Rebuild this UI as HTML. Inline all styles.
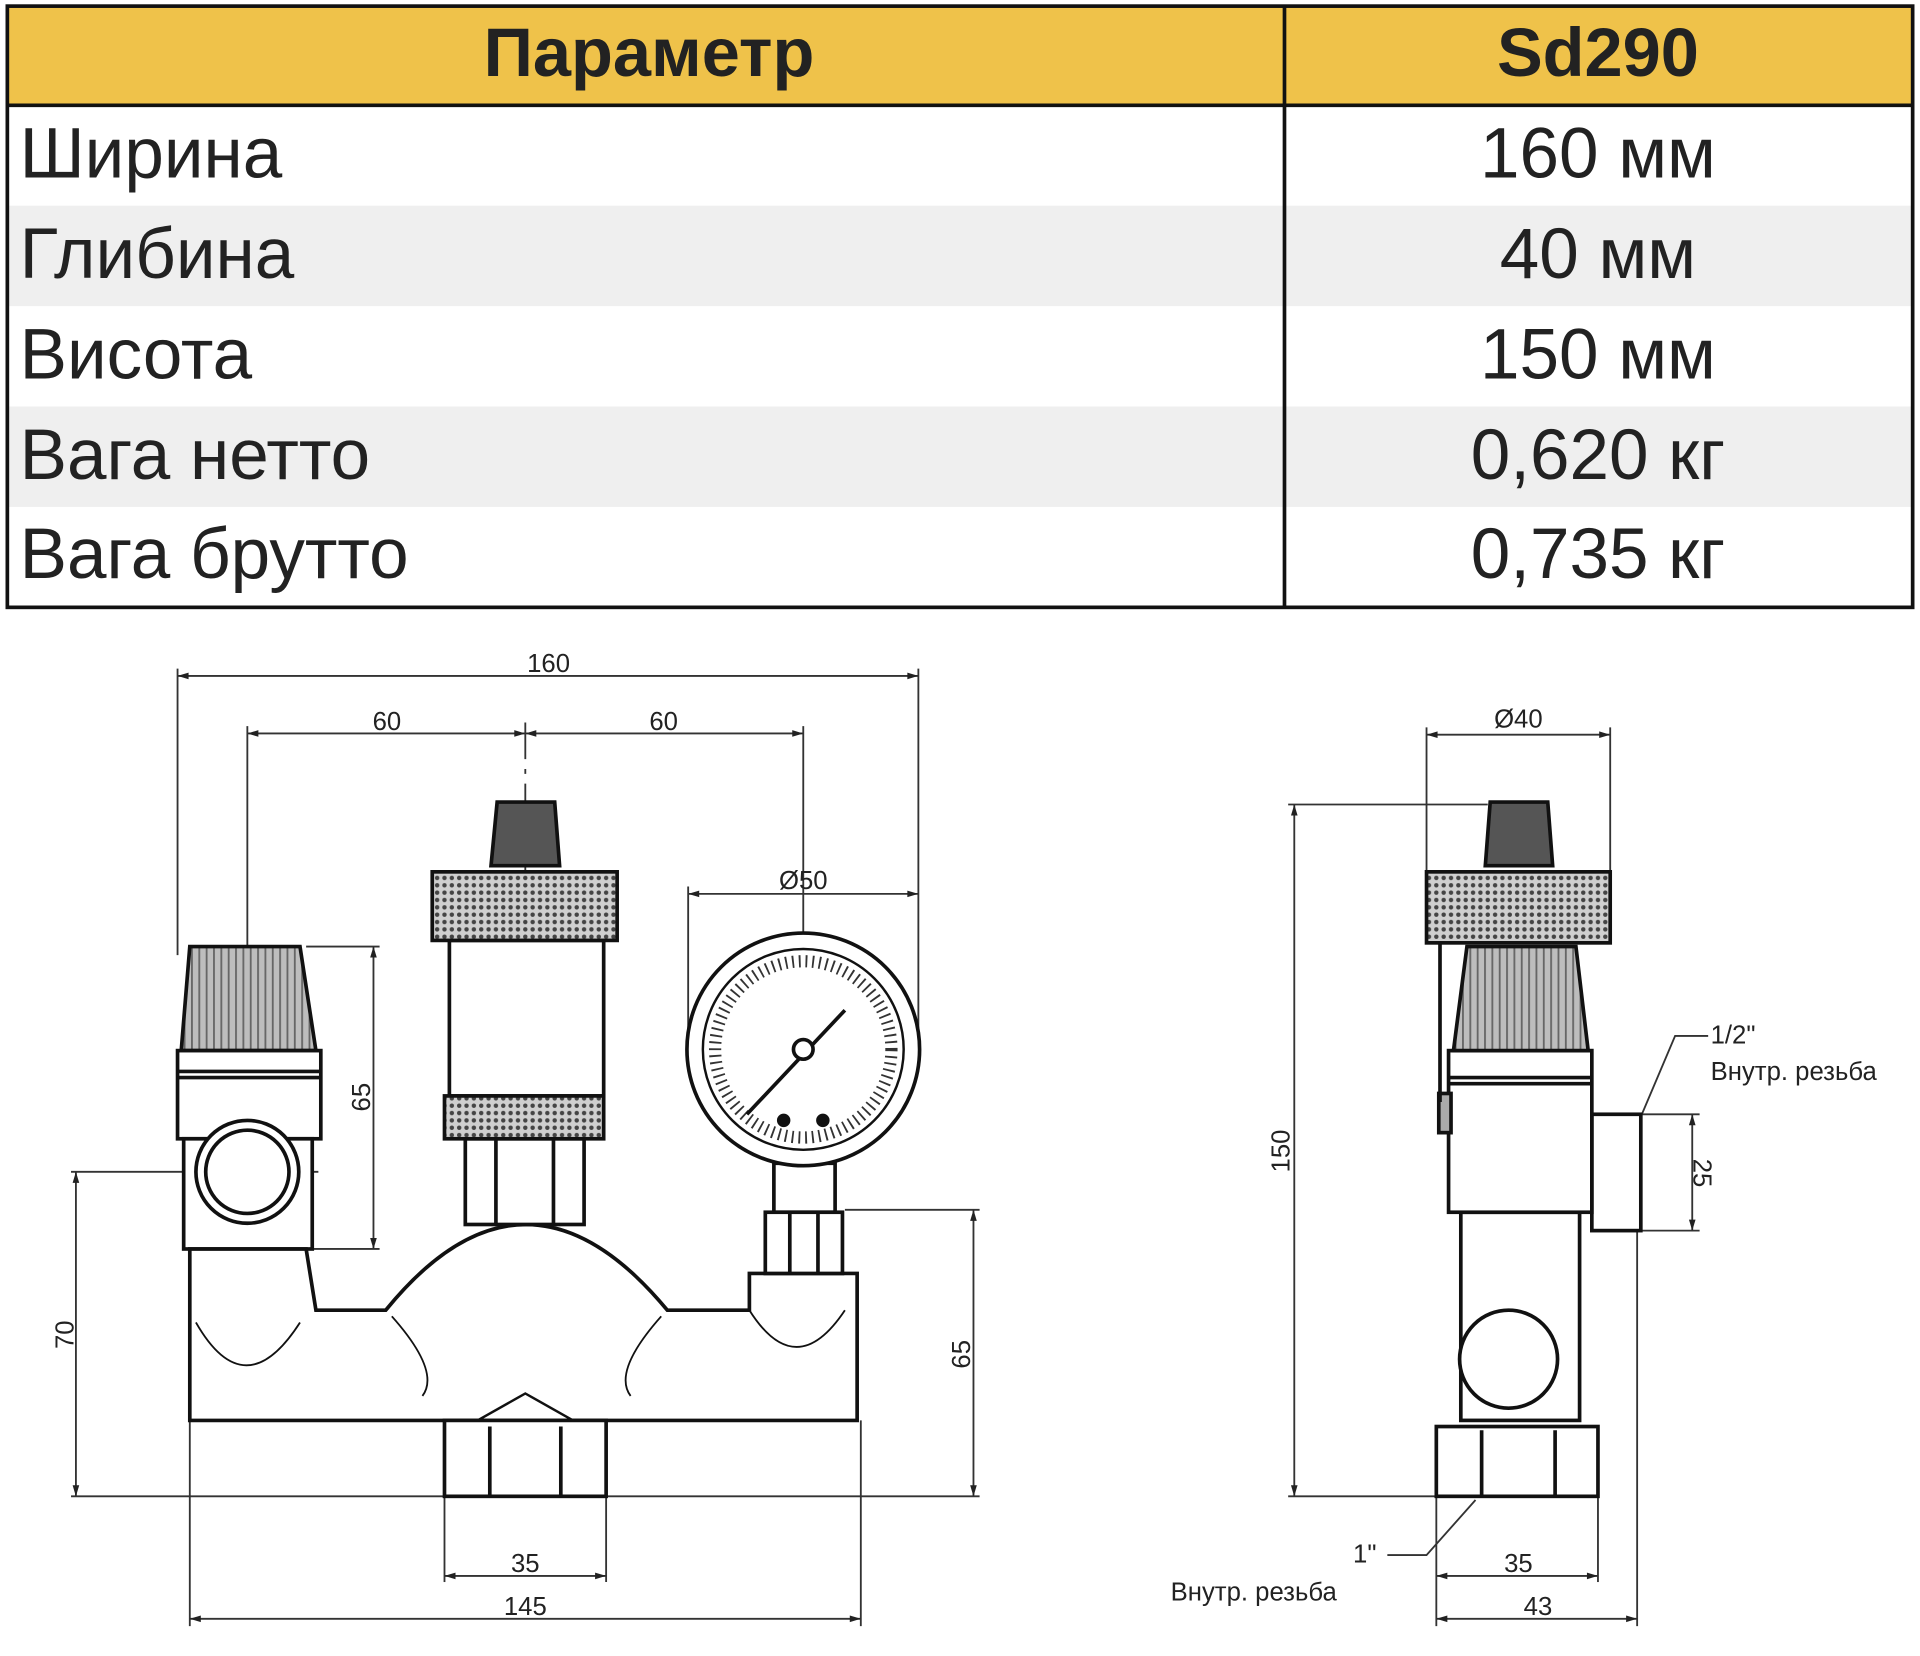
<!DOCTYPE html>
<html><head><meta charset="utf-8"><style>
html,body{margin:0;padding:0;background:#fff}
svg{display:block}
text{font-family:"Liberation Sans",Arial,sans-serif}
</style></head><body>
<svg width="1920" height="1656" viewBox="0 0 1568 1352.4" preserveAspectRatio="none" xmlns="http://www.w3.org/2000/svg">
<defs>
<pattern id="kn" width="6" height="6" patternUnits="userSpaceOnUse"><rect width="6" height="6" fill="#cfcfcf"/><circle cx="3" cy="3" r="1.8" fill="#444"/></pattern>
<pattern id="rib" width="6" height="6" patternUnits="userSpaceOnUse"><rect width="6" height="6" fill="#bdbdbd"/><rect x="0" width="1.5" height="6" fill="#666"/></pattern>
<marker id="a" viewBox="0 0 10 10" refX="10" refY="5" markerWidth="10" markerHeight="6" orient="auto-start-reverse"><path d="M0,2 L10,5 L0,8z" fill="#222"/></marker>
</defs>
<!-- table -->
<rect x="6" y="5" width="1556" height="81" fill="#efc24a"/>
<rect x="6" y="168" width="1556" height="82" fill="#efefef"/>
<rect x="6" y="332" width="1556" height="82" fill="#efefef"/>
<rect x="6" y="5" width="1556" height="491" fill="none" stroke="#111" stroke-width="3"/>
<line x1="6" y1="86" x2="1562" y2="86" stroke="#111" stroke-width="3"/>
<line x1="1049" y1="5" x2="1049" y2="496" stroke="#111" stroke-width="3"/>
<g font-size="56" fill="#222">
<text x="530" y="62" text-anchor="middle" font-weight="bold">Параметр</text>
<text x="1305" y="62" text-anchor="middle" font-weight="bold">Sd290</text>
</g>
<g font-size="58" fill="#222">
<text x="16" y="145">Ширина</text><text x="1305" y="145" text-anchor="middle">160 мм</text>
<text x="16" y="227">Глибина</text><text x="1305" y="227" text-anchor="middle">40 мм</text>
<text x="16" y="309">Висота</text><text x="1305" y="309" text-anchor="middle">150 мм</text>
<text x="16" y="391">Вага нетто</text><text x="1305" y="391" text-anchor="middle">0,620 кг</text>
<text x="16" y="472">Вага брутто</text><text x="1305" y="472" text-anchor="middle">0,735 кг</text>
</g>
<!-- left drawing dims -->
<g stroke="#333" stroke-width="1.5" fill="none">
<line x1="145" y1="552" x2="750" y2="552" marker-start="url(#a)" marker-end="url(#a)"/>
<line x1="145" y1="546" x2="145" y2="780"/>
<line x1="750" y1="546" x2="750" y2="860"/>
<line x1="202" y1="599" x2="429" y2="599" marker-start="url(#a)" marker-end="url(#a)"/>
<line x1="429" y1="599" x2="656" y2="599" marker-start="url(#a)" marker-end="url(#a)"/>
<line x1="202" y1="593" x2="202" y2="1020"/>
<line x1="656" y1="593" x2="656" y2="770"/>
<line x1="429" y1="590" x2="429" y2="1160" stroke-dasharray="30,8,4,8"/>
<line x1="562" y1="730" x2="750" y2="730" marker-start="url(#a)" marker-end="url(#a)"/>
<line x1="562" y1="724" x2="562" y2="850"/>
<line x1="250" y1="773" x2="310" y2="773"/>
<line x1="250" y1="1020" x2="310" y2="1020"/>
<line x1="305" y1="773" x2="305" y2="1020" marker-start="url(#a)" marker-end="url(#a)"/>
<line x1="58" y1="957" x2="260" y2="957"/>
<line x1="62" y1="957" x2="62" y2="1222" marker-start="url(#a)" marker-end="url(#a)"/>
<line x1="58" y1="1222" x2="800" y2="1222"/>
<line x1="690" y1="988" x2="800" y2="988"/>
<line x1="795" y1="988" x2="795" y2="1222" marker-start="url(#a)" marker-end="url(#a)"/>
<line x1="363" y1="1222" x2="363" y2="1292"/><line x1="495" y1="1222" x2="495" y2="1292"/>
<line x1="363" y1="1287" x2="495" y2="1287" marker-start="url(#a)" marker-end="url(#a)"/>
<line x1="155" y1="1160" x2="155" y2="1328"/><line x1="703" y1="1160" x2="703" y2="1328"/>
<line x1="155" y1="1322" x2="703" y2="1322" marker-start="url(#a)" marker-end="url(#a)"/>
</g>
<g font-size="21" fill="#222" text-anchor="middle">
<text x="448" y="549">160</text><text x="316" y="596">60</text><text x="542" y="596">60</text>
<text x="656" y="726">Ø50</text><text x="429" y="1284">35</text><text x="429" y="1319">145</text>
<text transform="translate(302,896) rotate(-90)">65</text>
<text transform="translate(60,1090) rotate(-90)">70</text>
<text transform="translate(792,1106) rotate(-90)">65</text>
</g>
<!-- left parts -->
<g stroke="#111" stroke-width="3">
<path d="M155,773 H245 L258,858 H148Z" fill="url(#rib)"/>
<rect x="145" y="858" width="117" height="72" fill="#fff"/>
<line x1="145" y1="875" x2="262" y2="875"/><line x1="145" y1="880" x2="262" y2="880"/>
<rect x="150" y="930" width="105" height="90" fill="#fff"/>
<circle cx="202" cy="957" r="42" fill="#fff"/><circle cx="202" cy="957" r="34" fill="#fff"/>
<path d="M155,1020 H250 L258,1070 H315 Q429,930 545,1070 H612 V1040 H700 V1160 H155Z" fill="#fff"/>
<path d="M160,1080 Q200,1150 245,1080" fill="none" stroke-width="1.5"/>
<path d="M612,1070 Q650,1130 690,1070" fill="none" stroke-width="1.5"/>
<path d="M320,1075 Q360,1120 345,1140 M540,1075 Q500,1120 515,1140" fill="none" stroke-width="1.5"/>
<path d="M390,1160 L429,1138 L468,1160" fill="none" stroke-width="2"/>
<rect x="363" y="1160" width="132" height="62" fill="#fff"/>
<line x1="400" y1="1165" x2="400" y2="1222"/><line x1="458" y1="1165" x2="458" y2="1222"/>
<rect x="380" y="930" width="97" height="70" fill="#fff"/>
<line x1="405" y1="930" x2="405" y2="1000"/><line x1="452" y1="930" x2="452" y2="1000"/>
<rect x="367" y="768" width="126" height="127" fill="#fff"/>
<rect x="353" y="712" width="151" height="56" fill="url(#kn)"/>
<rect x="363" y="895" width="130" height="35" fill="url(#kn)"/>
<path d="M406,655 H453 L457,707 H401Z" fill="#555"/>
<rect x="632" y="950" width="50" height="40" fill="#fff"/>
<rect x="625" y="990" width="63" height="50" fill="#fff"/>
<line x1="645" y1="990" x2="645" y2="1040"/><line x1="668" y1="990" x2="668" y2="1040"/>
<circle cx="656" cy="857" r="95" fill="#fff"/>
<circle cx="656" cy="857" r="82" fill="#fff" stroke-width="2"/>
<circle cx="656" cy="857" r="72" fill="none" stroke-width="10" stroke-dasharray="1.5,4" stroke="#333"/>
<line x1="610" y1="910" x2="690" y2="825" stroke-width="3"/>
<circle cx="656" cy="857" r="8" fill="#fff"/>
<circle cx="640" cy="915" r="4" fill="#111"/><circle cx="672" cy="915" r="4" fill="#111"/>
</g>
<!-- right drawing -->
<g stroke="#333" stroke-width="1.5" fill="none">
<line x1="1165" y1="600" x2="1315" y2="600" marker-start="url(#a)" marker-end="url(#a)"/>
<line x1="1165" y1="594" x2="1165" y2="712"/><line x1="1315" y1="594" x2="1315" y2="712"/>
<line x1="1052" y1="657" x2="1215" y2="657"/>
<line x1="1057" y1="657" x2="1057" y2="1222" marker-start="url(#a)" marker-end="url(#a)"/>
<line x1="1052" y1="1222" x2="1175" y2="1222"/>
<line x1="1340" y1="910" x2="1388" y2="910"/><line x1="1340" y1="1005" x2="1388" y2="1005"/>
<line x1="1382" y1="910" x2="1382" y2="1005" marker-start="url(#a)" marker-end="url(#a)"/>
<line x1="1173" y1="1222" x2="1173" y2="1328"/><line x1="1305" y1="1222" x2="1305" y2="1292"/><line x1="1337" y1="1005" x2="1337" y2="1328"/>
<line x1="1173" y1="1287" x2="1305" y2="1287" marker-start="url(#a)" marker-end="url(#a)"/>
<line x1="1173" y1="1322" x2="1337" y2="1322" marker-start="url(#a)" marker-end="url(#a)"/>
<path d="M1395,846 H1368 L1340,912"/>
<path d="M1133,1270 H1165 L1205,1225"/>
</g>
<g font-size="21" fill="#222">
<text x="1240" y="594" text-anchor="middle">Ø40</text>
<text x="1240" y="1284" text-anchor="middle">35</text><text x="1256" y="1319" text-anchor="middle">43</text>
<text transform="translate(1053,940) rotate(-90)" text-anchor="middle">150</text>
<text transform="translate(1383,958) rotate(90)" text-anchor="middle">25</text>
<text x="1397" y="852">1/2"</text><text x="1397" y="882">Внутр. резьба</text>
<text x="1105" y="1276">1"</text><text x="956" y="1307">Внутр. резьба</text>
</g>
<g stroke="#111" stroke-width="3">
<rect x="1193" y="990" width="97" height="170" fill="#fff"/>
<circle cx="1232" cy="1110" r="40" fill="#fff"/>
<rect x="1300" y="910" width="40" height="95" fill="#fff"/>
<path d="M1278,935 Q1300,960 1278,990" fill="none" stroke-width="2"/>
<rect x="1183" y="858" width="117" height="132" fill="#fff"/>
<line x1="1183" y1="880" x2="1300" y2="880"/><line x1="1183" y1="885" x2="1300" y2="885"/>
<rect x="1175" y="893" width="10" height="32" fill="#aaa"/>
<path d="M1198,773 H1287 L1297,858 H1187Z" fill="url(#rib)"/>
<line x1="1176" y1="770" x2="1176" y2="900"/>
<rect x="1165" y="712" width="150" height="58" fill="url(#kn)"/>
<path d="M1217,655 H1264 L1268,707 H1213Z" fill="#555"/>
<rect x="1173" y="1165" width="132" height="57" fill="#fff"/>
<line x1="1210" y1="1168" x2="1210" y2="1222"/><line x1="1270" y1="1168" x2="1270" y2="1222"/>
</g>
</svg>
</body></html>
